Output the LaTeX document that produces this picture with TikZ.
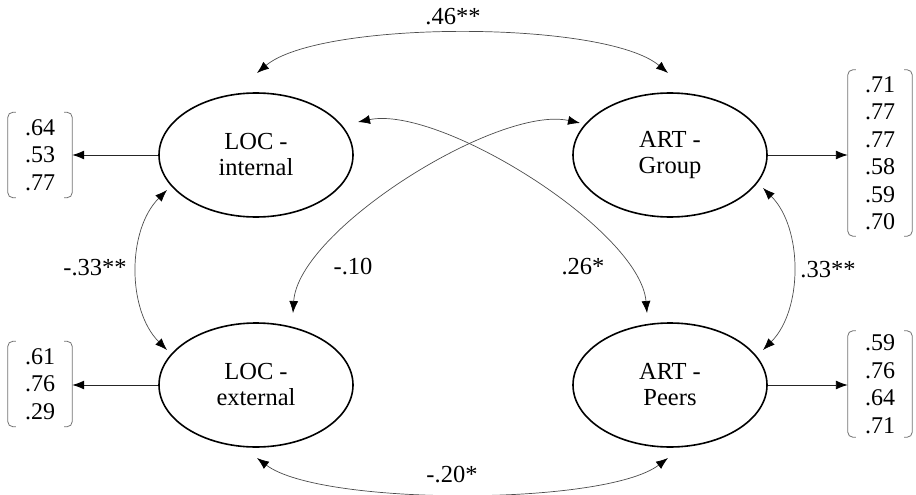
\documentclass[tikz,border=0pt]{standalone}
\usepackage{fontspec}
\setmainfont{Liberation Serif}
\usetikzlibrary{shapes.geometric,arrows.meta,calc}
\begin{document}
\begin{tikzpicture}[x=1pt,y=-1pt,
 latent/.style={ellipse,draw,line width=1.6pt,minimum width=194pt,minimum height=124pt,inner sep=0pt,align=center,font=\fontsize{24.5}{26}\selectfont},
 loadbox/.style={rectangle,inner sep=0pt,minimum width=64pt,align=center,font=\fontsize{24}{27.5}\selectfont},
 bracket/.style={draw=black!55,line width=0.8pt,rounded corners=5pt},
 tip/.tip={Latex[length=12pt,width=9pt,color=black]},
 loadarrow/.style={draw=black!85,line width=0.9pt,-tip},
 cov/.style={draw=black!70,line width=0.7pt,tip-tip},
 lab/.style={font=\fontsize{24.5}{26}\selectfont,inner sep=0pt}]
\useasboundingbox (0,0) rectangle (916,495);

% latent variables
\node[latent] (li) at (256,155) {LOC -\\internal};
\node[latent] (le) at (256,385) {LOC -\\external};
\node[latent] (ag) at (670,155) {ART -\\Group};
\node[latent] (ap) at (670,385) {ART -\\Peers};

% loading boxes
\node[loadbox,minimum height=85pt] (bli) at (40,155) {.64\\.53\\.77};
\node[loadbox,minimum height=85pt] (ble) at (40,384) {.61\\.76\\.29};
\node[loadbox,minimum height=166pt] (bag) at (880,153) {.71\\.77\\.77\\.58\\.59\\.70};
\node[loadbox,minimum height=106pt] (bap) at (880,384) {.59\\.76\\.64\\.71};

\foreach \b in {bli,ble,bag,bap}{
  \draw[bracket] ([xshift=8pt]\b.north west) -- (\b.north west) -- (\b.south west) -- ([xshift=8pt]\b.south west);
  \draw[bracket] ([xshift=-8pt]\b.north east) -- (\b.north east) -- (\b.south east) -- ([xshift=-8pt]\b.south east);
}

% loading arrows
\draw[loadarrow] (li.west) -- (li.west -| bli.east);
\draw[loadarrow] (le.west) -- (le.west -| ble.east);
\draw[loadarrow] (ag.east) -- (ag.east -| bag.west);
\draw[loadarrow] (ap.east) -- (ap.east -| bap.west);

% covariances
\draw[cov] ($(li.center)+(1,-82)$) .. controls (320,20) and (605,20) .. ($(ag.center)+(-2,-82)$);
\draw[cov] ($(le.center)+(1,73)$) .. controls (320,506) and (605,506) .. ($(ap.center)+(-2,73)$);
\draw[cov] ($(li.center)+(-89,35)$) .. controls (127,230) and (127,310) .. ($(le.center)+(-89,-35)$);
\draw[cov] ($(ag.center)+(93,33)$) .. controls (803,228) and (803,310) .. ($(ap.center)+(93,-35)$);
\draw[cov] ($(li.center)+(102,-33)$) .. controls (440,105) and (640,230) .. ($(ap.center)+(-23,-72)$);
\draw[cov] ($(ag.center)+(-90,-32)$) .. controls (498,105) and (298,230) .. ($(le.center)+(37,-72)$);

% labels
\node[lab] (t46) at (453,17) {.46**};
\node[lab] (t20) at (452,475) {-.20*};
\node[lab] (t33a) at (95,268) {-.33**};
\node[lab] (t33b) at (828,270) {.33**};
\node[lab] (t10) at (353,267) {-.10};
\node[lab] (t26) at (583,267) {.26*};
\end{tikzpicture}
\end{document}
